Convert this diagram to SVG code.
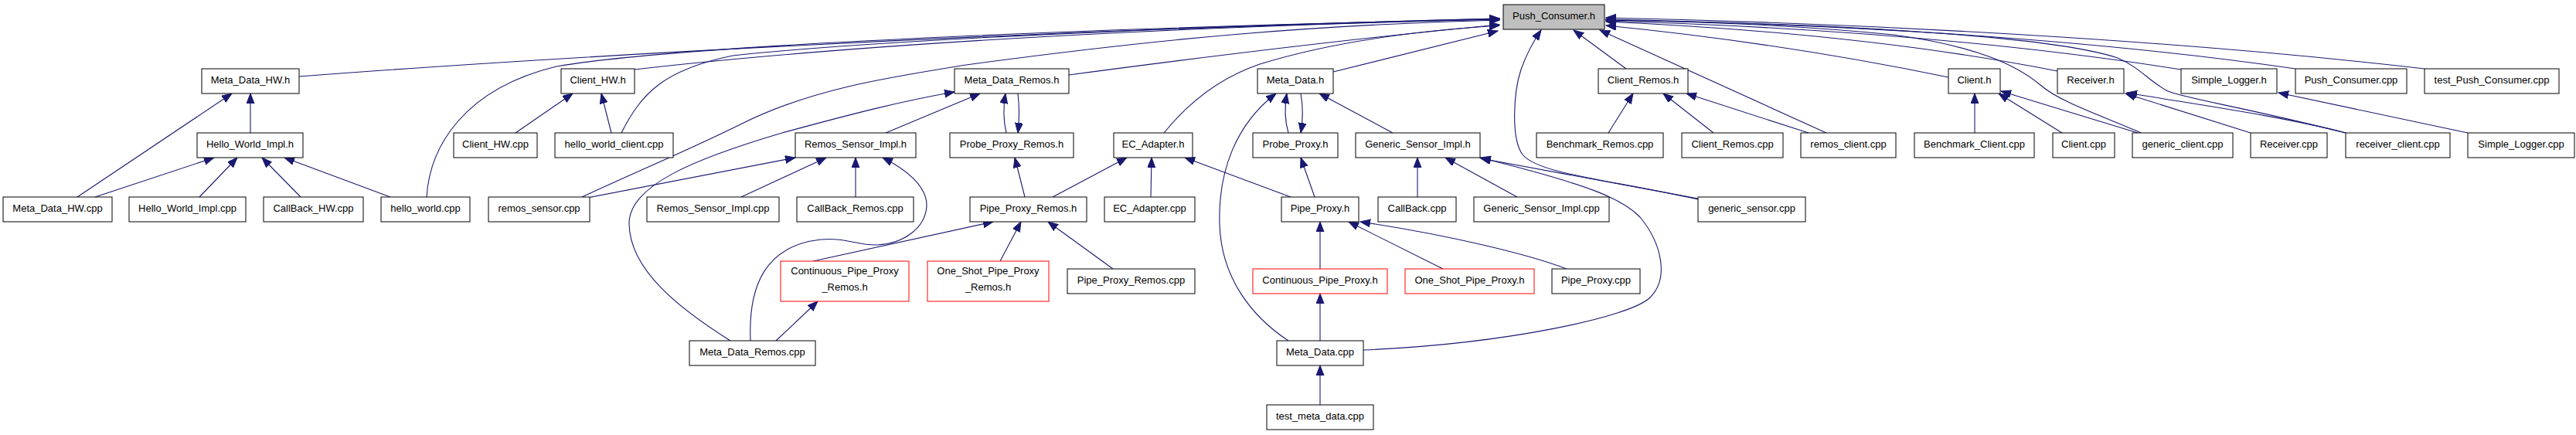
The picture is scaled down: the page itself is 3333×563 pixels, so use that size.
<svg xmlns="http://www.w3.org/2000/svg" width="3333" height="563" viewBox="0 0 3333 563">
<style>
.n rect{fill:#fff;stroke:#000;stroke-width:1}
.r rect{stroke:#f00}
.root rect{fill:#bfbfbf}
text{font-family:"Liberation Sans",Arial,sans-serif;font-size:13px;text-anchor:middle;fill:#000}
.e path{fill:none;stroke:#191970;stroke-width:1.1;marker-end:url(#a)}
</style>
<defs>
<marker id="a" markerUnits="userSpaceOnUse" markerWidth="14" markerHeight="11" refX="13" refY="5" orient="auto"><path d="M0,0 L13,5 L0,10 z" fill="#191970" stroke="#191970" stroke-width="1"/></marker>
</defs>
<rect width="3333" height="563" fill="#fff"/>
<g id="edges" class="e">
<path d="M100,255 L300,121"/>
<path d="M324,172 L324,121"/>
<path d="M123,255 L277,204"/>
<path d="M258,255 L307,204"/>
<path d="M389,255 L339,204"/>
<path d="M505,255 L368,204"/>
<path d="M552,255 C556,190 600,115 720,86 C900,55 1500,35 1940,24"/>
<path d="M667,172 L741,121"/>
<path d="M791,172 L778,121"/>
<path d="M804,172 C830,120 860,90 948,72 C1150,50 1600,32 1940,25"/>
<path d="M821,90 C1100,58 1500,35 1940,25"/>
<path d="M387,99 C700,75 1300,40 1940,24"/>
<path d="M753,255 C840,215 900,190 960,160 C1050,115 1150,100 1250,84 C1500,50 1700,32 1940,26"/>
<path d="M760,256 L1029,204"/>
<path d="M959,255 L1069,204"/>
<path d="M1107,255 L1107,204"/>
<path d="M971,441 C968,370 990,318 1062,310 C1095,307 1110,318 1135,317 C1170,315 1197,295 1199,267 C1200,240 1170,218 1142,204"/>
<path d="M945,441 C880,400 815,350 814,290 C813,240 900,205 1012,172 C1100,148 1170,130 1235,119"/>
<path d="M1004,441 L1058,390"/>
<path d="M1052,338 L1285,287"/>
<path d="M1294,338 L1321,287"/>
<path d="M1440,348 L1356,287"/>
<path d="M1146,172 L1268,121"/>
<path d="M1302,172 C1298,155 1298,138 1301,121"/>
<path d="M1317,121 C1319,138 1319,155 1317,172"/>
<path d="M1383,97 C1600,68 1800,45 1940,32"/>
<path d="M1326,255 L1313,204"/>
<path d="M1362,255 L1458,204"/>
<path d="M1489,255 L1490,204"/>
<path d="M1670,255 L1533,204"/>
<path d="M1506,172 C1540,130 1580,100 1630,83 C1720,55 1830,40 1940,33"/>
<path d="M1667,441 C1620,410 1580,360 1578,290 C1576,220 1600,160 1651,121"/>
<path d="M1667,172 C1662,155 1662,138 1665,121"/>
<path d="M1683,121 C1686,138 1686,155 1683,172"/>
<path d="M1802,172 L1707,121"/>
<path d="M1725,93 L1938,40"/>
<path d="M1701,255 L1683,204"/>
<path d="M1708,348 L1708,287"/>
<path d="M1867,348 L1745,287"/>
<path d="M2027,348 C1980,330 1880,305 1760,287"/>
<path d="M1708,441 L1708,380"/>
<path d="M1708,524 L1708,473"/>
<path d="M1764,453 C1950,445 2110,410 2135,385 C2160,360 2150,315 2122,281 C2100,258 2060,240 1915,204"/>
<path d="M1963,255 L1870,204"/>
<path d="M1834,255 L1834,204"/>
<path d="M2197,257 L1916,205"/>
<path d="M2197,258 C2080,232 1990,225 1970,200 C1955,180 1958,120 1968,90 C1975,70 1985,52 1994,39"/>
<path d="M2104,89 L2036,39"/>
<path d="M2081,172 L2113,121"/>
<path d="M2217,172 L2152,121"/>
<path d="M2340,172 L2182,121"/>
<path d="M2363,172 L2070,39"/>
<path d="M2555,172 L2555,121"/>
<path d="M2668,172 L2586,121"/>
<path d="M2766,172 L2589,118"/>
<path d="M2770,172 C2720,150 2665,132 2640,110 C2610,85 2560,60 2450,45 C2300,30 2150,27 2078,26"/>
<path d="M2521,100 C2400,75 2250,50 2078,33"/>
<path d="M2912,172 L2750,121"/>
<path d="M3035,172 C2950,150 2840,135 2752,120"/>
<path d="M2662,92 C2500,60 2300,38 2078,28"/>
<path d="M3035,172 C2900,138 2830,128 2805,118 C2780,105 2770,88 2740,75 C2650,45 2350,30 2078,26"/>
<path d="M3193,172 L2948,120"/>
<path d="M2822,90 C2600,55 2350,35 2078,27"/>
<path d="M2970,89 C2700,50 2400,32 2078,25"/>
<path d="M3137,89 C2800,50 2400,30 2078,23"/>
</g>
<g id="push_consumer_h" class="n root"><rect x="1945" y="6" width="131" height="32"/><text x="2010.5" y="25">Push_Consumer.h</text></g>
<g id="meta_data_hw_h" class="n"><rect x="261" y="89" width="126" height="32"/><text x="324" y="108">Meta_Data_HW.h</text></g>
<g id="client_hw_h" class="n"><rect x="726" y="89" width="95" height="32"/><text x="773.5" y="108">Client_HW.h</text></g>
<g id="meta_data_remos_h" class="n"><rect x="1235" y="89" width="148" height="32"/><text x="1309" y="108">Meta_Data_Remos.h</text></g>
<g id="meta_data_h" class="n"><rect x="1627" y="89" width="98" height="32"/><text x="1676" y="108">Meta_Data.h</text></g>
<g id="client_remos_h" class="n"><rect x="2068" y="89" width="116" height="32"/><text x="2126" y="108">Client_Remos.h</text></g>
<g id="client_h" class="n"><rect x="2521" y="89" width="67" height="32"/><text x="2554.5" y="108">Client.h</text></g>
<g id="receiver_h" class="n"><rect x="2662" y="89" width="86" height="32"/><text x="2705" y="108">Receiver.h</text></g>
<g id="simple_logger_h" class="n"><rect x="2822" y="89" width="124" height="32"/><text x="2884" y="108">Simple_Logger.h</text></g>
<g id="push_consumer_cpp" class="n"><rect x="2970" y="89" width="144" height="32"/><text x="3042" y="108">Push_Consumer.cpp</text></g>
<g id="test_push_consumer_cpp" class="n"><rect x="3137" y="89" width="174" height="32"/><text x="3224" y="108">test_Push_Consumer.cpp</text></g>
<g id="hello_world_impl_h" class="n"><rect x="255" y="172" width="137" height="32"/><text x="323.5" y="191">Hello_World_Impl.h</text></g>
<g id="client_hw_cpp" class="n"><rect x="587" y="172" width="108" height="32"/><text x="641" y="191">Client_HW.cpp</text></g>
<g id="hello_world_client_cpp" class="n"><rect x="718" y="172" width="153" height="32"/><text x="794.5" y="191">hello_world_client.cpp</text></g>
<g id="remos_sensor_impl_h" class="n"><rect x="1029" y="172" width="156" height="32"/><text x="1107" y="191">Remos_Sensor_Impl.h</text></g>
<g id="probe_proxy_remos_h" class="n"><rect x="1229" y="172" width="160" height="32"/><text x="1309" y="191">Probe_Proxy_Remos.h</text></g>
<g id="ec_adapter_h" class="n"><rect x="1441" y="172" width="102" height="32"/><text x="1492" y="191">EC_Adapter.h</text></g>
<g id="probe_proxy_h" class="n"><rect x="1621" y="172" width="110" height="32"/><text x="1676" y="191">Probe_Proxy.h</text></g>
<g id="generic_sensor_impl_h" class="n"><rect x="1754" y="172" width="161" height="32"/><text x="1834.5" y="191">Generic_Sensor_Impl.h</text></g>
<g id="benchmark_remos_cpp" class="n"><rect x="1988" y="172" width="164" height="32"/><text x="2070" y="191">Benchmark_Remos.cpp</text></g>
<g id="client_remos_cpp" class="n"><rect x="2176" y="172" width="131" height="32"/><text x="2241.5" y="191">Client_Remos.cpp</text></g>
<g id="remos_client_cpp" class="n"><rect x="2330" y="172" width="123" height="32"/><text x="2391.5" y="191">remos_client.cpp</text></g>
<g id="benchmark_client_cpp" class="n"><rect x="2477" y="172" width="155" height="32"/><text x="2554.5" y="191">Benchmark_Client.cpp</text></g>
<g id="client_cpp" class="n"><rect x="2656" y="172" width="80" height="32"/><text x="2696" y="191">Client.cpp</text></g>
<g id="generic_client_cpp" class="n"><rect x="2759" y="172" width="130" height="32"/><text x="2824" y="191">generic_client.cpp</text></g>
<g id="receiver_cpp" class="n"><rect x="2912" y="172" width="99" height="32"/><text x="2961.5" y="191">Receiver.cpp</text></g>
<g id="receiver_client_cpp" class="n"><rect x="3035" y="172" width="135" height="32"/><text x="3102.5" y="191">receiver_client.cpp</text></g>
<g id="simple_logger_cpp" class="n"><rect x="3193" y="172" width="138" height="32"/><text x="3262" y="191">Simple_Logger.cpp</text></g>
<g id="meta_data_hw_cpp" class="n"><rect x="4" y="255" width="141" height="32"/><text x="74.5" y="274">Meta_Data_HW.cpp</text></g>
<g id="hello_world_impl_cpp" class="n"><rect x="167" y="255" width="151" height="32"/><text x="242.5" y="274">Hello_World_Impl.cpp</text></g>
<g id="callback_hw_cpp" class="n"><rect x="341" y="255" width="129" height="32"/><text x="405.5" y="274">CallBack_HW.cpp</text></g>
<g id="hello_world_cpp" class="n"><rect x="493" y="255" width="115" height="32"/><text x="550.5" y="274">hello_world.cpp</text></g>
<g id="remos_sensor_cpp" class="n"><rect x="632" y="255" width="131" height="32"/><text x="697.5" y="274">remos_sensor.cpp</text></g>
<g id="remos_sensor_impl_cpp" class="n"><rect x="837" y="255" width="171" height="32"/><text x="922.5" y="274">Remos_Sensor_Impl.cpp</text></g>
<g id="callback_remos_cpp" class="n"><rect x="1031" y="255" width="151" height="32"/><text x="1106.5" y="274">CallBack_Remos.cpp</text></g>
<g id="pipe_proxy_remos_h" class="n"><rect x="1255" y="255" width="151" height="32"/><text x="1330.5" y="274">Pipe_Proxy_Remos.h</text></g>
<g id="ec_adapter_cpp" class="n"><rect x="1429" y="255" width="117" height="32"/><text x="1487.5" y="274">EC_Adapter.cpp</text></g>
<g id="pipe_proxy_h" class="n"><rect x="1658" y="255" width="100" height="32"/><text x="1708" y="274">Pipe_Proxy.h</text></g>
<g id="callback_cpp" class="n"><rect x="1783" y="255" width="101" height="32"/><text x="1833.5" y="274">CallBack.cpp</text></g>
<g id="generic_sensor_impl_cpp" class="n"><rect x="1907" y="255" width="175" height="32"/><text x="1994.5" y="274">Generic_Sensor_Impl.cpp</text></g>
<g id="generic_sensor_cpp" class="n"><rect x="2197" y="255" width="139" height="32"/><text x="2266.5" y="274">generic_sensor.cpp</text></g>
<g id="continuous_pipe_proxy_remos_h" class="n r"><rect x="1010" y="338" width="166" height="52"/><text x="1093" y="355">Continuous_Pipe_Proxy</text><text x="1093" y="376">_Remos.h</text></g>
<g id="one_shot_pipe_proxy_remos_h" class="n r"><rect x="1200" y="338" width="157" height="52"/><text x="1278.5" y="355">One_Shot_Pipe_Proxy</text><text x="1278.5" y="376">_Remos.h</text></g>
<g id="pipe_proxy_remos_cpp" class="n"><rect x="1381" y="348" width="165" height="32"/><text x="1463.5" y="367">Pipe_Proxy_Remos.cpp</text></g>
<g id="continuous_pipe_proxy_h" class="n r"><rect x="1621" y="348" width="174" height="32"/><text x="1708" y="367">Continuous_Pipe_Proxy.h</text></g>
<g id="one_shot_pipe_proxy_h" class="n r"><rect x="1818" y="348" width="167" height="32"/><text x="1901.5" y="367">One_Shot_Pipe_Proxy.h</text></g>
<g id="pipe_proxy_cpp" class="n"><rect x="2008" y="348" width="114" height="32"/><text x="2065" y="367">Pipe_Proxy.cpp</text></g>
<g id="meta_data_remos_cpp" class="n"><rect x="892" y="441" width="163" height="32"/><text x="973.5" y="460">Meta_Data_Remos.cpp</text></g>
<g id="meta_data_cpp" class="n"><rect x="1652" y="441" width="112" height="32"/><text x="1708" y="460">Meta_Data.cpp</text></g>
<g id="test_meta_data_cpp" class="n"><rect x="1639" y="524" width="138" height="32"/><text x="1708" y="543">test_meta_data.cpp</text></g>
</svg>
